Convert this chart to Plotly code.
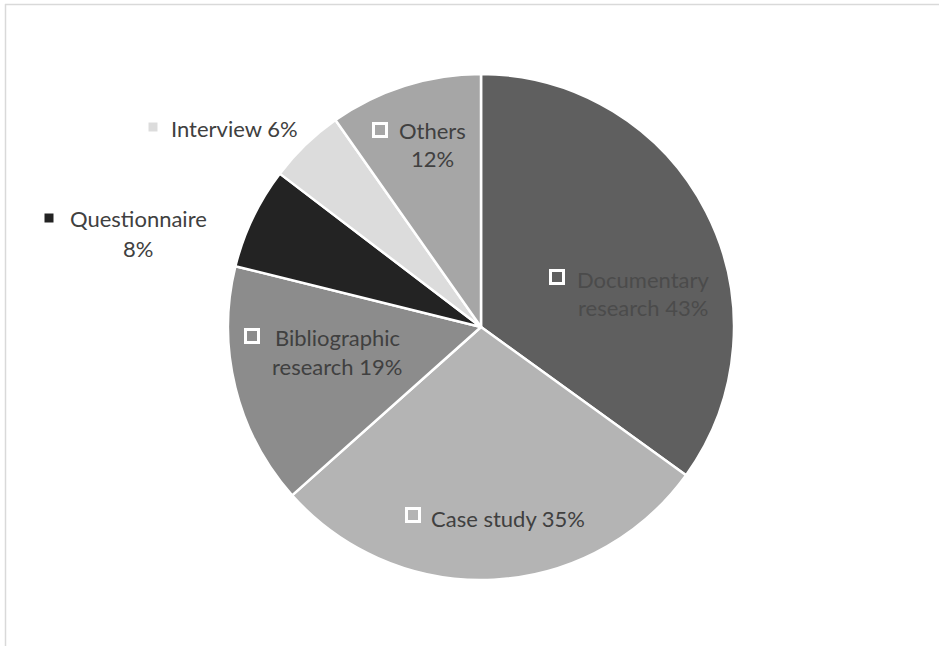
import plotly.graph_objects as go

W, H = 939, 646

categories = ["Documentary research", "Case study", "Bibliographic research",
              "Questionnaire", "Interview", "Others"]
values = [43, 35, 19, 8, 6, 12]
colors = ["#5f5f5f", "#b4b4b4", "#8c8c8c", "#232323", "#dcdcdc", "#a6a6a6"]

# label lines (text) per category (\u200c avoids the Lato "st" ligature)
label_lines = {
    "Documentary research": ["Documentary", "research 43%"],
    "Case study": ["Cas\u200ce s\u200ctudy 35%"],
    "Bibliographic research": ["Bibliographic", "research 19%"],
    "Questionnaire": ["Ques\u200ctionnaire", "8%"],
    "Interview": ["Interview 6%"],
    "Others": ["Others", "12%"],
}

# layout positions (pixels): text block center x, first line y, key square center, key size, text color, key outline
label_style = {
    "Documentary research": dict(cx=643, y0=279, key=(557, 277), ks=13, tc="#4b4b4b", outline=True),
    "Case study": dict(cx=508, y0=518, key=(413, 515), ks=13, tc="#404040", outline=True),
    "Bibliographic research": dict(cx=337, y0=337, key=(252, 336), ks=13, tc="#404040", outline=True),
    "Questionnaire": dict(cx=138, y0=219, key=(49, 218), ks=9, tc="#404040", outline=False),
    "Interview": dict(cx=234, y0=128, key=(153, 127), ks=9, tc="#404040", outline=False),
    "Others": dict(cx=432, y0=130, key=(380, 130), ks=13, tc="#404040", outline=True),
}
LINE_GAP = 29

cx, cy, R = 481, 327, 253

fig = go.Figure(go.Pie(
    labels=categories, values=values, sort=False, direction="clockwise", rotation=0,
    marker=dict(colors=colors, line=dict(color="white", width=2.5)),
    textinfo="none", hoverinfo="label+percent", showlegend=False,
    domain=dict(x=[(cx - R) / W, (cx + R) / W], y=[1 - (cy + R) / H, 1 - (cy - R) / H]),
))

def px(x):
    return x / W

def py(y):
    return 1 - y / H

annotations = []
shapes = []
for cat, col in zip(categories, colors):
    st = label_style[cat]
    for i, line in enumerate(label_lines[cat]):
        annotations.append(dict(
            x=px(st["cx"]), y=py(st["y0"] + i * LINE_GAP), xref="paper", yref="paper",
            text=line, showarrow=False, xanchor="center", yanchor="middle",
            font=dict(family="Lato, Open Sans, sans-serif", size=22, color=st["tc"]),
        ))
    kx, ky = st["key"]
    h = st["ks"] / 2
    shapes.append(dict(
        type="rect", xref="paper", yref="paper",
        x0=px(kx - h), x1=px(kx + h), y0=py(ky + h), y1=py(ky - h),
        fillcolor=col,
        line=dict(color="white" if st["outline"] else col, width=3 if st["outline"] else 0),
    ))

# chart frame (light gray border)
shapes.append(dict(type="line", xref="paper", yref="paper", x0=px(5), x1=1, y0=py(4.5), y1=py(4.5),
                   line=dict(color="#d9d9d9", width=1.5)))
shapes.append(dict(type="line", xref="paper", yref="paper", x0=px(5.5), x1=px(5.5), y0=0, y1=py(4),
                   line=dict(color="#d9d9d9", width=1.5)))

fig.update_layout(
    width=W, height=H, margin=dict(l=0, r=0, t=0, b=0),
    paper_bgcolor="white", plot_bgcolor="white",
    annotations=annotations, shapes=shapes,
)

fig.write_html("out.html")
